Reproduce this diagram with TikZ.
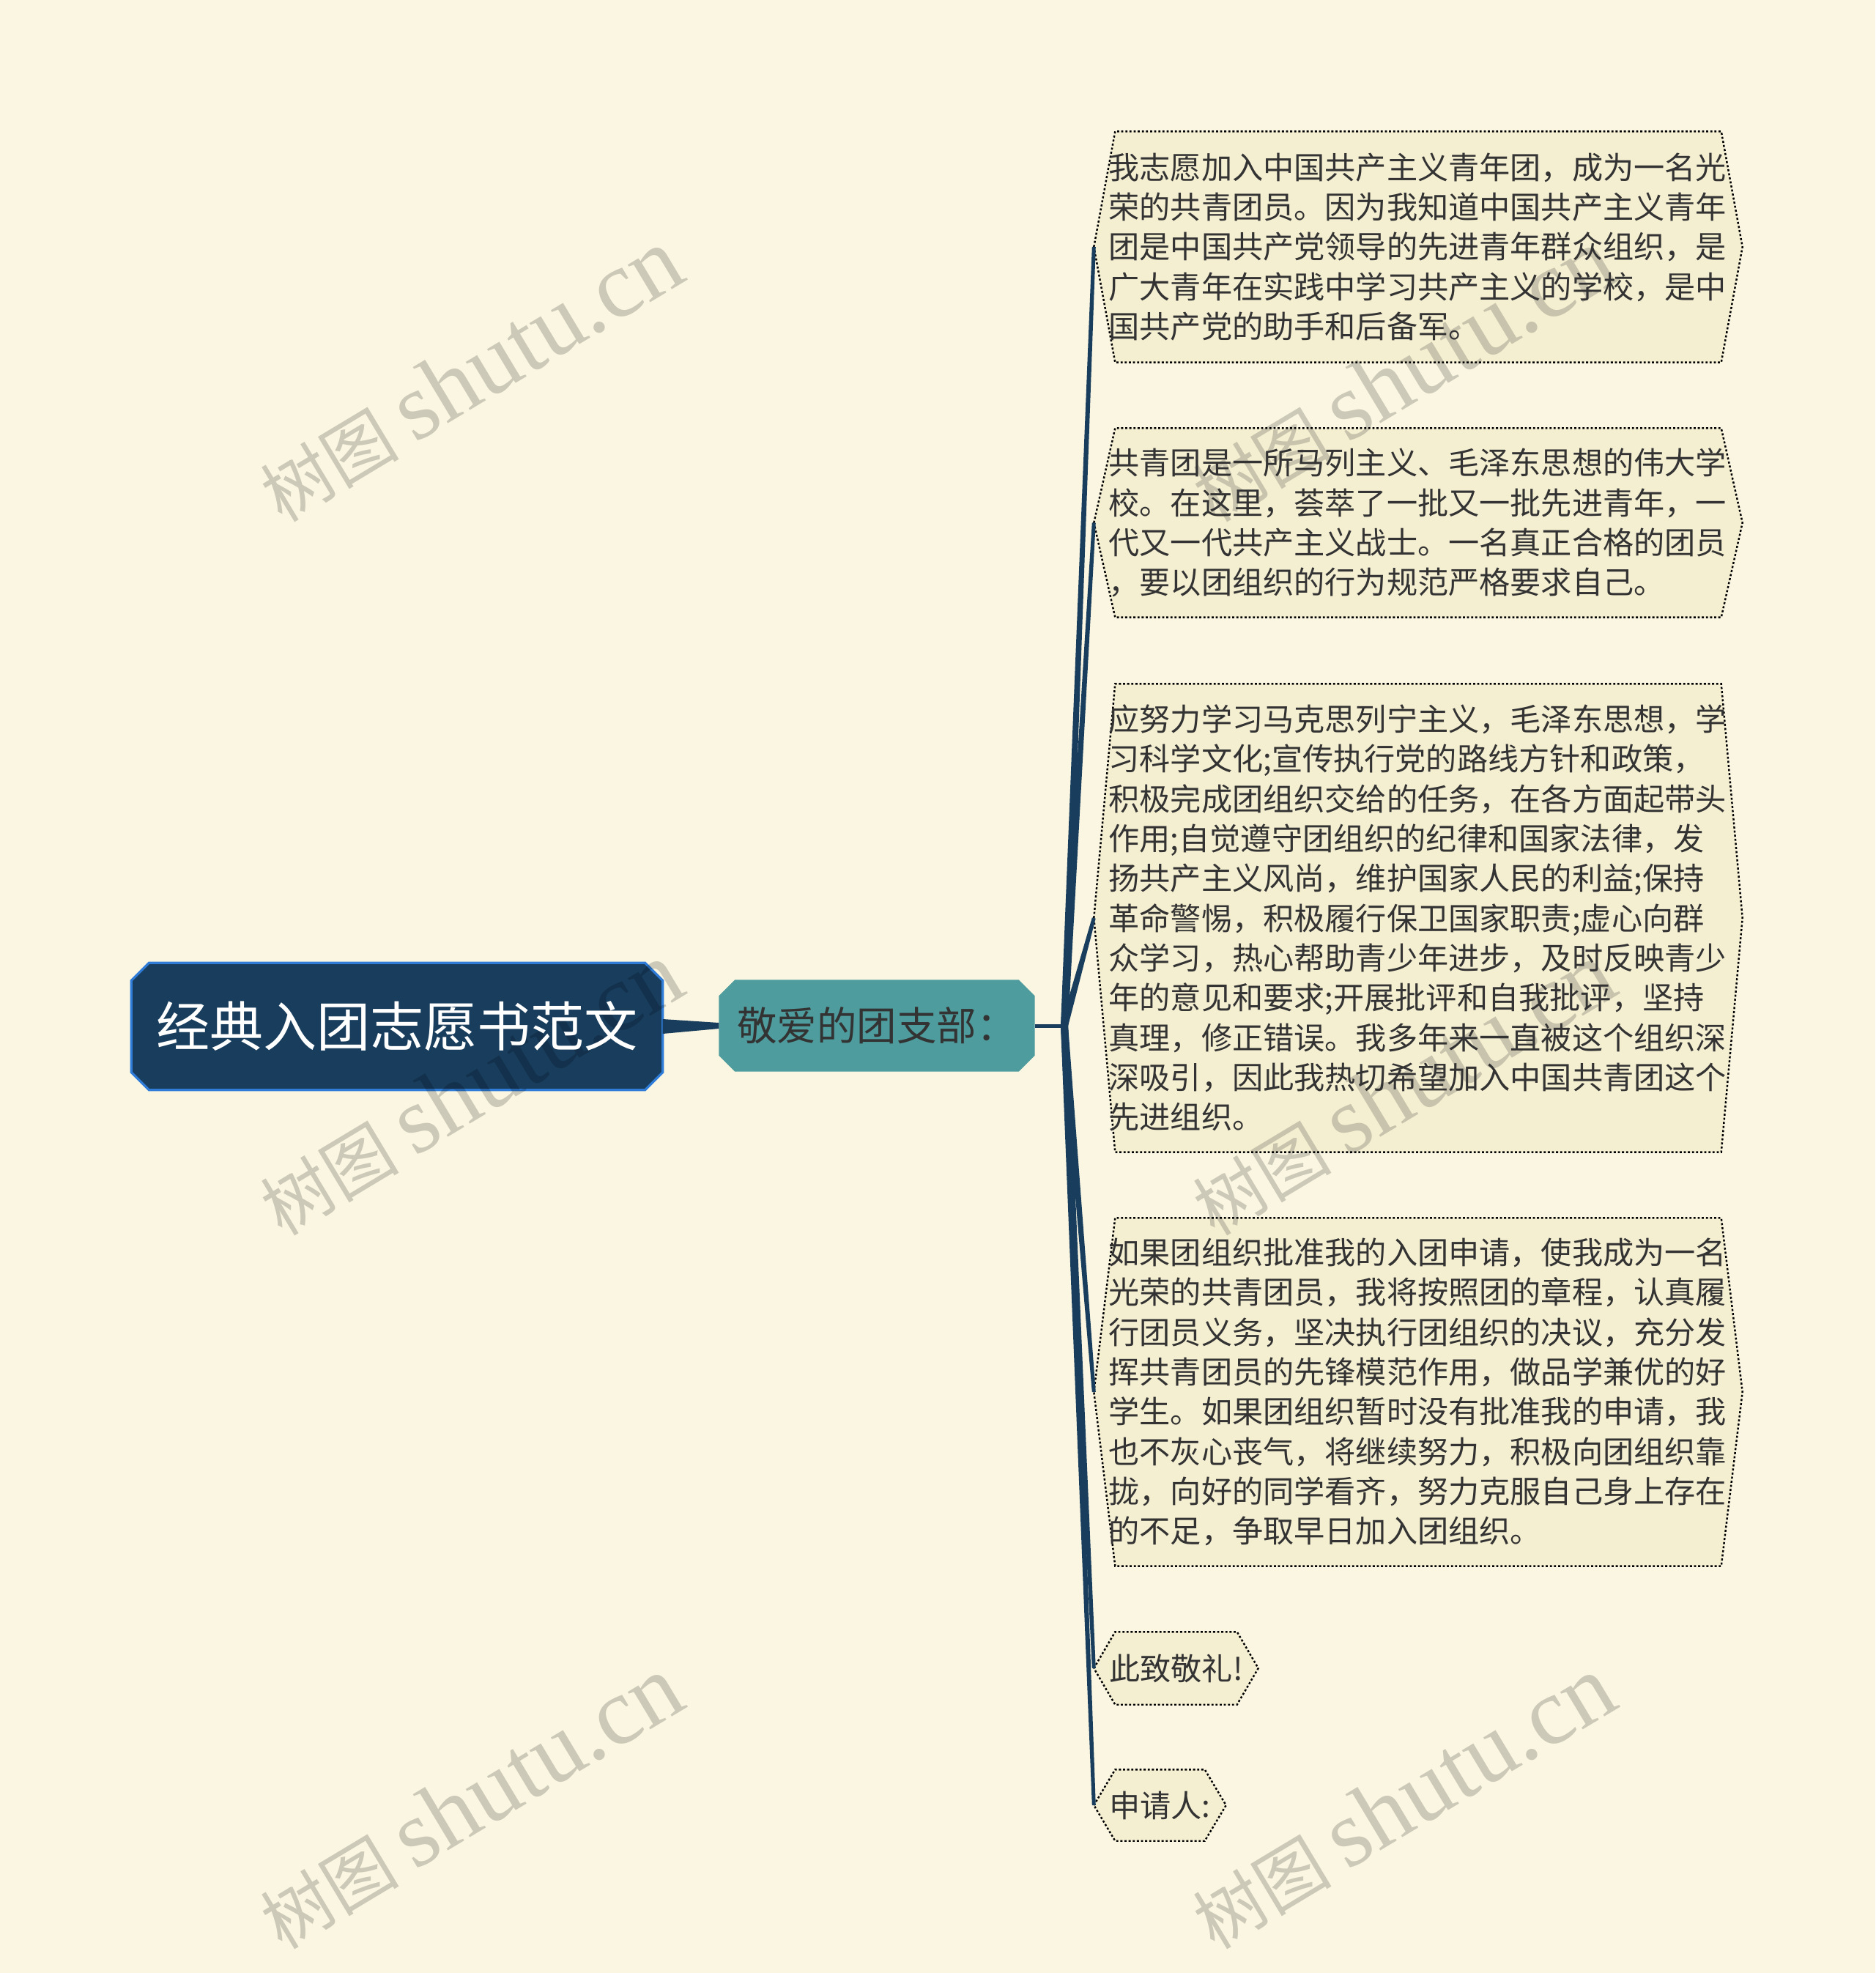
\documentclass[tikz,border=0pt]{standalone}
\usepackage{fontspec}
\setmainfont{Noto Sans CJK SC}
\newfontfamily\wmlatin{Liberation Serif}
\usetikzlibrary{calc}

\definecolor{cream}{HTML}{FAF6E1}
\definecolor{boxfill}{HTML}{F5EFD2}
\definecolor{navy}{HTML}{183D5D}
\definecolor{rootedge}{HTML}{2F7DD8}
\definecolor{tealbox}{HTML}{4E9C9D}
\definecolor{ink}{HTML}{333333}

\pgfdeclarelayer{back}
\pgfdeclarelayer{mid}
\pgfdeclarelayer{wm}
\pgfsetlayers{back,mid,wm,main}

\begin{document}
\begin{tikzpicture}[
  rootbox/.style={minimum width=7.24cm, minimum height=1.72cm, inner sep=0pt, text=white, font=\fontsize{20.8pt}{25pt}\selectfont},
  subbox/.style={minimum width=4.30cm, minimum height=1.24cm, inner sep=0pt, text=ink, font=\fontsize{15.5pt}{18pt}\selectfont},
  textbox/.style={text width=8.45cm, inner xsep=0.195cm, inner ysep=0pt, align=left, text=ink, font=\fontsize{12pt}{15.45pt}\selectfont},
  tagbox/.style={inner sep=0pt, text=ink, font=\fontsize{12pt}{15pt}\selectfont},
  hexline/.style={fill=boxfill, draw=black, line width=0.7pt, dash pattern=on 0.8pt off 0.8pt},
  wmtext/.style={rotate=31, text=black, text opacity=0.18, font=\fontsize{27pt}{30pt}\selectfont}
]
\useasboundingbox (0,0) rectangle (25.6,-26.93);
\begin{pgfonlayer}{back}
\fill[cream] (0,0) rectangle (25.6,-26.93);
\end{pgfonlayer}

% main topic and first branch
\node[rootbox] (root) at (5.42,-14.01) {经典入团志愿书范文};
\node[subbox] (sub) at (11.97,-14.00) {敬爱的团支部：};
\coordinate (hub) at (14.53,-14.00);

% the leaves
\node[textbox, minimum height=3.14cm] (b1) at (19.36,-3.37) {我志愿加入中国共产主义青年团，成为一名光\\荣的共青团员。因为我知道中国共产主义青年\\团是中国共产党领导的先进青年群众组织，是\\广大青年在实践中学习共产主义的学校，是中\\国共产党的助手和后备军。};
\node[textbox, minimum height=2.57cm] (b2) at (19.36,-7.135) {共青团是一所马列主义、毛泽东思想的伟大学\\校。在这里，荟萃了一批又一批先进青年，一\\代又一代共产主义战士。一名真正合格的团员\\，要以团组织的行为规范严格要求自己。};
\node[textbox, minimum height=6.38cm] (b3) at (19.36,-12.53) {应努力学习马克思列宁主义，毛泽东思想，学\\习科学文化;宣传执行党的路线方针和政策，\\积极完成团组织交给的任务，在各方面起带头\\作用;自觉遵守团组织的纪律和国家法律，发\\扬共产主义风尚，维护国家人民的利益;保持\\革命警惕，积极履行保卫国家职责;虚心向群\\众学习，热心帮助青少年进步，及时反映青少\\年的意见和要求;开展批评和自我批评，坚持\\真理，修正错误。我多年来一直被这个组织深\\深吸引，因此我热切希望加入中国共青团这个\\先进组织。};
\node[textbox, minimum height=4.74cm] (b4) at (19.36,-19.00) {如果团组织批准我的入团申请，使我成为一名\\光荣的共青团员，我将按照团的章程，认真履\\行团员义务，坚决执行团组织的决议，充分发\\挥共青团员的先锋模范作用，做品学兼优的好\\学生。如果团组织暂时没有批准我的申请，我\\也不灰心丧气，将继续努力，积极向团组织靠\\拢，向好的同学看齐，努力克服自己身上存在\\的不足，争取早日加入团组织。};
\node[tagbox, minimum width=2.23cm, minimum height=0.98cm] (b5) at (16.055,-22.77) {此致敬礼!};
\node[tagbox, minimum width=1.79cm, minimum height=0.96cm] (b6) at (15.835,-24.64) {申请人:};

\begin{pgfonlayer}{mid}
% boxes
\draw[fill=navy, draw=rootedge, line width=0.9pt] ([xshift=.24cm]root.north west) -- ([xshift=-.24cm]root.north east) -- ([yshift=-.24cm]root.north east) -- ([yshift=.24cm]root.south east) -- ([xshift=-.24cm]root.south east) -- ([xshift=.24cm]root.south west) -- ([yshift=.24cm]root.south west) -- ([yshift=-.24cm]root.north west) -- cycle;
\fill[tealbox] ([xshift=.22cm]sub.north west) -- ([xshift=-.22cm]sub.north east) -- ([yshift=-.22cm]sub.north east) -- ([yshift=.22cm]sub.south east) -- ([xshift=-.22cm]sub.south east) -- ([xshift=.22cm]sub.south west) -- ([yshift=.22cm]sub.south west) -- ([yshift=-.22cm]sub.north west) -- cycle;
\foreach \n in {b1,b2,b3,b4,b5,b6}
  \draw[hexline] (\n.west) -- ([xshift=.29cm]\n.north west) -- ([xshift=-.29cm]\n.north east) -- (\n.east) -- ([xshift=-.29cm]\n.south east) -- ([xshift=.29cm]\n.south west) -- cycle;
% connectors
\fill[navy] ([yshift=.10cm]root.east) -- ([yshift=.04cm]sub.west) -- ([yshift=-.04cm]sub.west) -- ([yshift=-.10cm]root.east) -- cycle;
\draw[navy, line width=0.05cm] (sub.east) -- (hub);
\foreach \n in {b1,b2,b3,b4,b5,b6}
  \fill[navy] ($(hub)!.05cm!90:(\n.west)$) -- ($(\n.west)!.025cm!-90:(hub)$) -- ($(\n.west)!.025cm!90:(hub)$) -- ($(hub)!.05cm!-90:(\n.west)$) -- cycle;
\end{pgfonlayer}

% watermark
\begin{pgfonlayer}{wm}
\foreach \wx/\wy [count=\i] in {6.42/-5.12, 19.15/-5.12, 6.42/-14.86, 19.15/-14.86, 6.42/-24.6, 19.15/-24.6}
  \node[wmtext] (wm\i) at (\wx,\wy) {树图 {\wmlatin\fontsize{37pt}{40pt}\selectfont shutu.cn}};
\end{pgfonlayer}
\end{tikzpicture}
\end{document}
